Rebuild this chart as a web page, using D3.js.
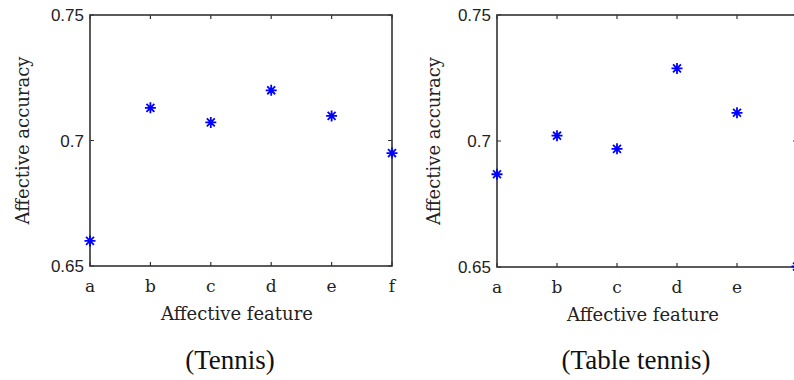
<!DOCTYPE html>
<html>
<head>
<meta charset="utf-8">
<script src="https://cdn.jsdelivr.net/npm/d3@7"></script>
<style>
  body { margin: 0; background: #fff; }
  svg { display: block; }
</style>
</head>
<body>
<div id="chart"></div>
<script>
// data
const features = ['a', 'b', 'c', 'd', 'e', 'f'];
const tennisAcc = [0.660, 0.713, 0.7072, 0.720, 0.7098, 0.695];
const tableTennisAcc = [0.6868, 0.7021, 0.6969, 0.7288, 0.7112, 0.6502];
const yTicks = [0.65, 0.7, 0.75];
const yDomain = [0.65, 0.75];
const panelTitles = ['(Tennis)', '(Table tennis)'];

const W = 794, H = 380;
const svg = d3.select('#chart').append('svg')
  .attr('width', W).attr('height', H);

// MATLAB style '*' marker: 4 crossing strokes
const asterisk = {
  draw(ctx, size) {
    const r = Math.sqrt(size) / 2, d = r * 0.72;
    ctx.moveTo(-r, 0); ctx.lineTo(r, 0);
    ctx.moveTo(0, -r); ctx.lineTo(0, r);
    ctx.moveTo(-d, -d); ctx.lineTo(d, d);
    ctx.moveTo(-d, d); ctx.lineTo(d, -d);
  }
};

const panels = [
  {values: tennisAcc, title: panelTitles[0], x0: 90, x1: 392, top: 15, bottom: 266, ylab: 29},
  {values: tableTennisAcc, title: panelTitles[1], x0: 497, x1: 797, top: 15, bottom: 267, ylab: 440}
];

const frameCol = '#333';
const labFont = 'DejaVu Serif';

panels.forEach(p => {
  const g = svg.append('g');
  const x = d3.scalePoint().domain(features).range([p.x0, p.x1]);
  const y = d3.scaleLinear().domain(yDomain).range([p.bottom, p.top]);

  // box
  g.append('rect')
    .attr('x', p.x0).attr('y', p.top)
    .attr('width', p.x1 - p.x0).attr('height', p.bottom - p.top)
    .attr('fill', 'none').attr('stroke', frameCol).attr('stroke-width', 1.6);

  // inward ticks, bottom and top
  const tl = 4;
  g.selectAll('.xtick').data(features).enter().append('path')
    .attr('d', d => `M${x(d)},${p.bottom}v${-tl}M${x(d)},${p.top}v${tl}`)
    .attr('stroke', frameCol).attr('stroke-width', 1.2);
  g.selectAll('.ytick').data(yTicks).enter().append('path')
    .attr('d', d => `M${p.x0},${y(d)}h${tl}M${p.x1},${y(d)}h${-tl}`)
    .attr('stroke', frameCol).attr('stroke-width', 1.2);

  // tick labels
  g.selectAll('.xlab').data(features).enter().append('text')
    .attr('x', d => x(d)).attr('y', p.bottom + 26)
    .attr('text-anchor', 'middle')
    .attr('font-family', labFont).attr('font-size', 17)
    .attr('fill', '#222')
    .text(d => d);
  g.selectAll('.ylab').data(yTicks).enter().append('text')
    .attr('x', p.x0 - 6).attr('y', d => y(d)).attr('dy', '0.36em')
    .attr('text-anchor', 'end')
    .attr('font-family', 'Liberation Sans').attr('font-size', 17)
    .attr('fill', '#222')
    .text(d => d3.format('')(d));

  // axis titles
  g.append('text')
    .attr('x', (p.x0 + p.x1) / 2 - 4).attr('y', p.bottom + 54)
    .attr('text-anchor', 'middle')
    .attr('font-family', labFont).attr('font-size', 18)
    .attr('fill', '#222')
    .text('Affective feature');
  g.append('text')
    .attr('transform', `translate(${p.ylab},${(p.top + p.bottom) / 2}) rotate(-90)`)
    .attr('text-anchor', 'middle')
    .attr('font-family', labFont).attr('font-size', 18)
    .attr('fill', '#222')
    .text('Affective accuracy');

  // panel caption
  g.append('text')
    .attr('x', (p.x0 + p.x1) / 2 - 11).attr('y', 369)
    .attr('text-anchor', 'middle')
    .attr('font-family', 'Liberation Serif').attr('font-size', 27)
    .attr('fill', '#111')
    .text(p.title);

  // points
  g.selectAll('.pt').data(p.values).enter().append('path')
    .attr('transform', (d, i) => `translate(${x(features[i])},${y(d)})`)
    .attr('d', d3.symbol().type(asterisk).size(121))
    .attr('fill', 'none').attr('stroke', '#0000ff').attr('stroke-width', 1.8);
});
</script>
</body>
</html>
